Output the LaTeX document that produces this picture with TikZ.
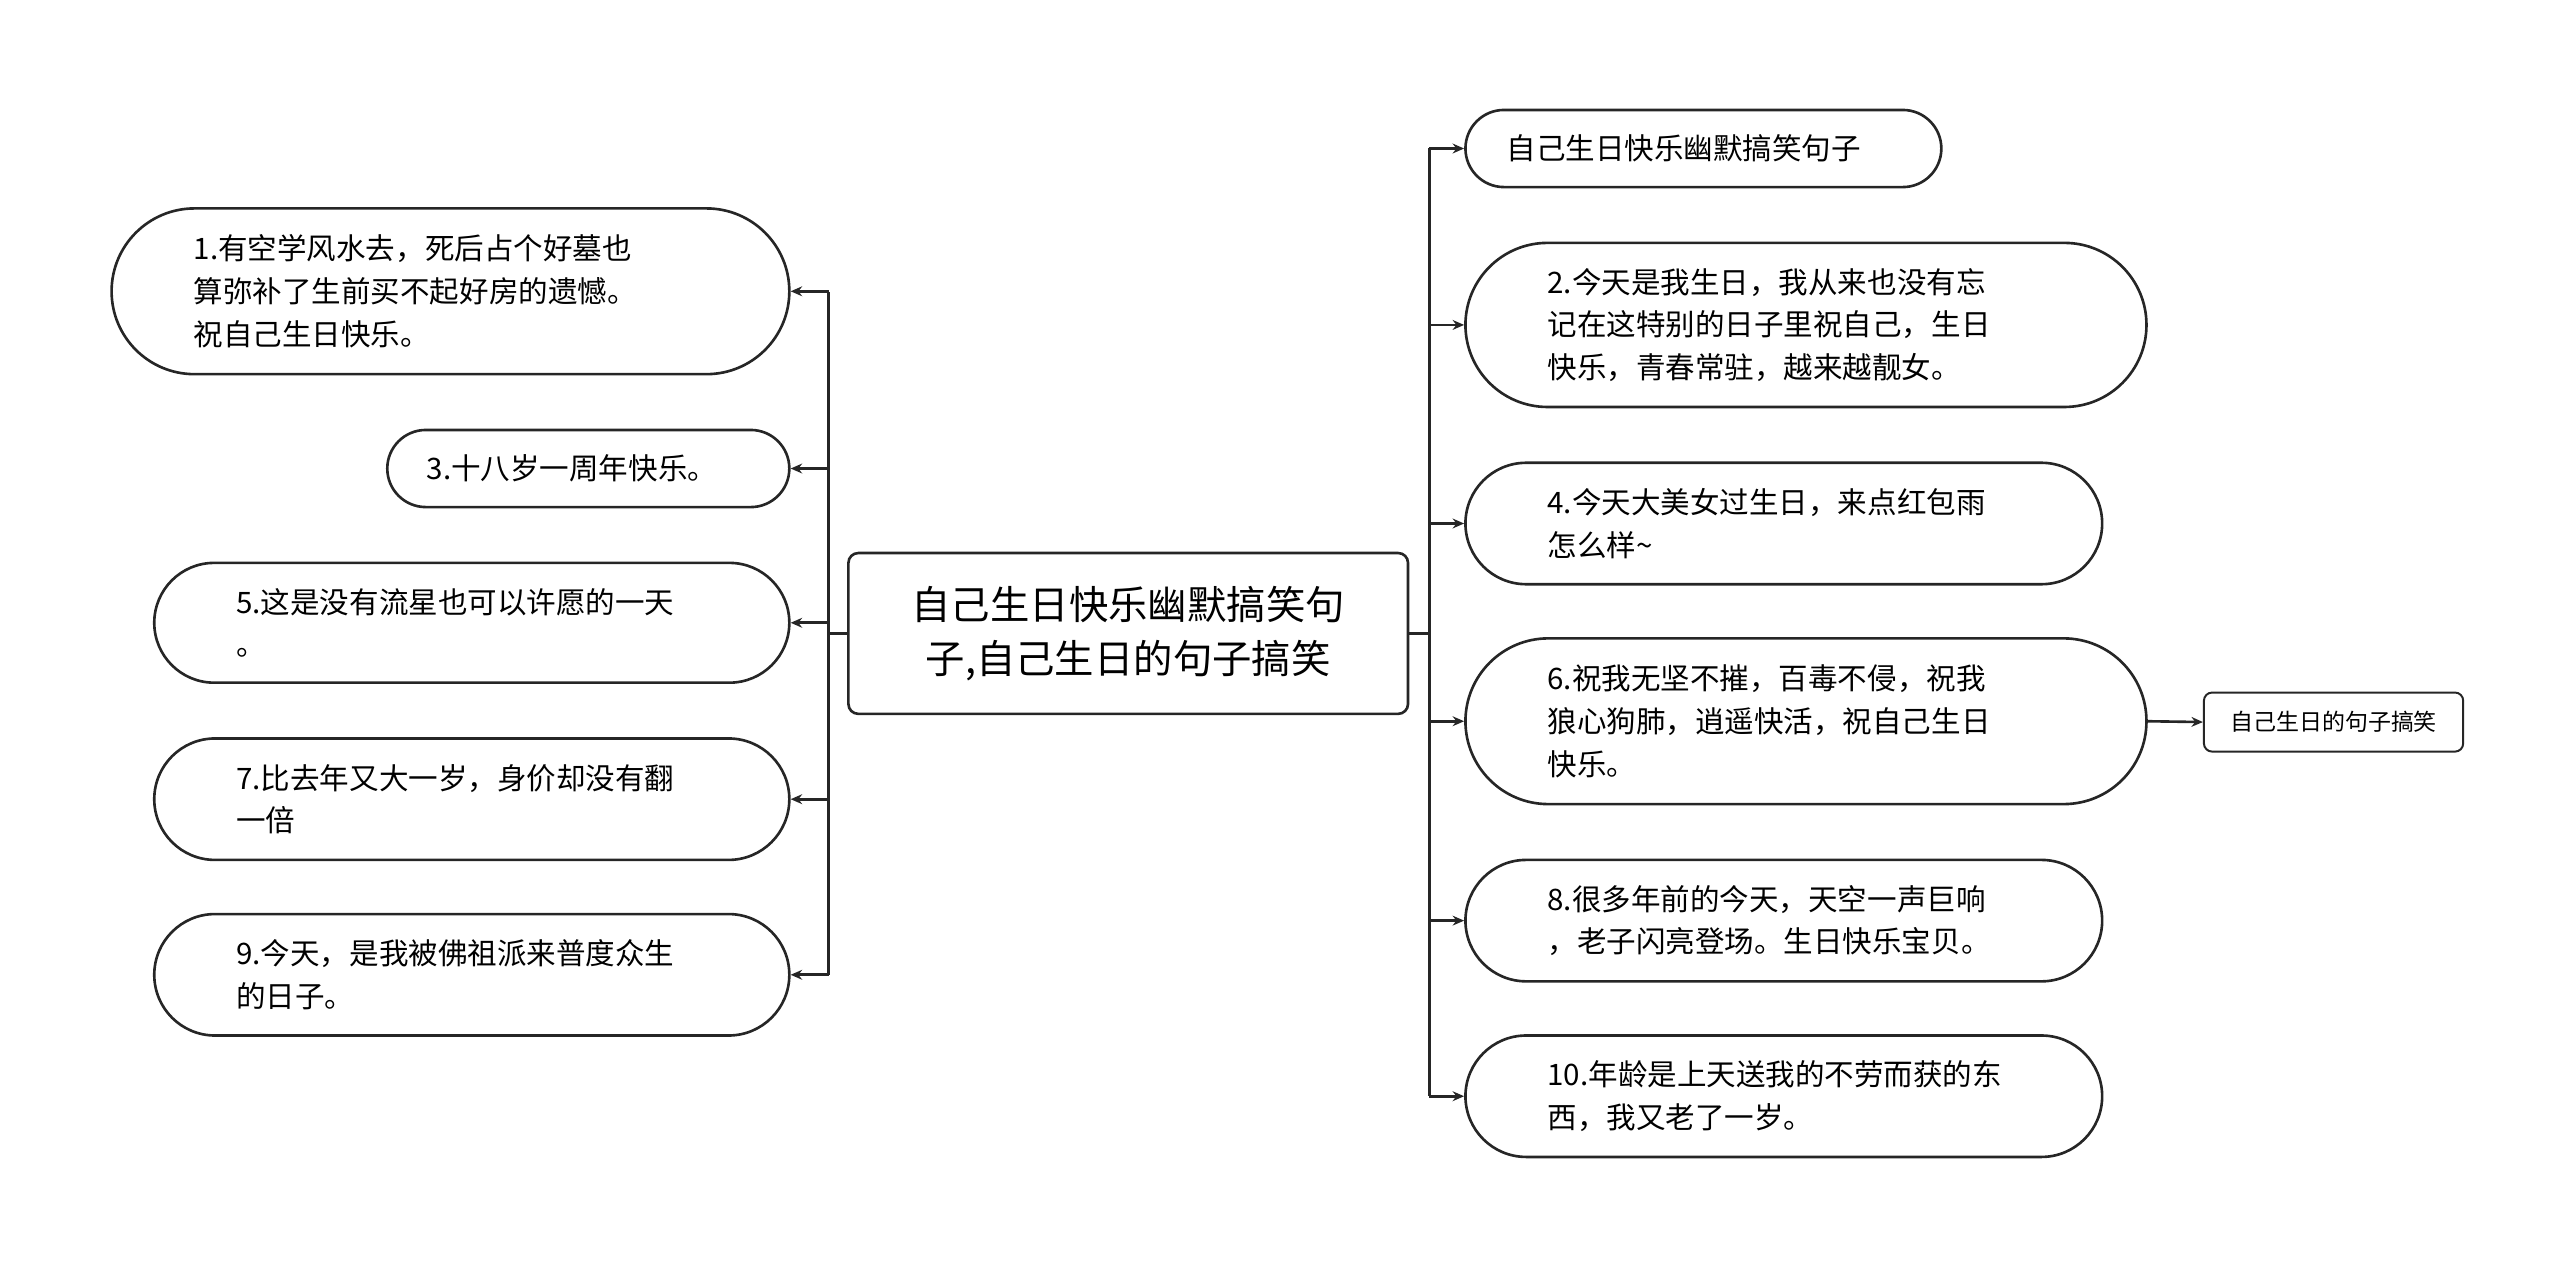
\documentclass[tikz,border=0pt]{standalone}
\usepackage{fontspec}
\setmainfont{Noto Sans CJK SC}
\usetikzlibrary{arrows.meta}
\tikzset{
  topic/.style={draw=black!85, line width=1.6pt, rounded corners=6pt, align=center,
    minimum width=341pt, minimum height=98pt, font=\fontsize{24}{33}\selectfont},
  item/.style={draw=black!85, line width=1.6pt, align=left, inner xsep=0pt,
    font=\fontsize{18}{26}\selectfont},
  tag/.style={draw=black!85, line width=1.2pt, rounded corners=5pt,
    minimum width=158pt, minimum height=36pt, font=\fontsize{14}{18}\selectfont},
  link/.style={line width=1.6pt, draw=black!85, -{Stealth[length=7pt,width=6pt]}},
  trunk/.style={line width=1.6pt, draw=black!85}
}
% \itembox{name}{left}{top}{width}{height}{pad}{text}
\newcommand{\itembox}[7]{%
  \node[item, rounded corners=#5*0.5pt, minimum width=#4pt, minimum height=#5pt,
    text width=#4pt-2*#6pt] (#1) at (#2+#4*0.5, #3+#5*0.5) {#7};}
\begin{document}
\begin{tikzpicture}[x=1pt,y=-1pt]
\useasboundingbox (0,0) rectangle (1560,769);
\node[topic] (root) at (687.5,386) {自己生日快乐幽默搞笑句\\子,自己生日的句子搞笑};
% left side
\itembox{l1}{68}{127}{413}{101}{50}{1.有空学风水去，死后占个好墓也\\算弥补了生前买不起好房的遗憾。\\祝自己生日快乐。}
\itembox{l3}{236}{262}{245}{47}{24}{3.十八岁一周年快乐。}
\itembox{l5}{94}{343}{387}{73}{50}{5.这是没有流星也可以许愿的一天\\。}
\itembox{l7}{94}{450}{387}{74}{50}{7.比去年又大一岁，身价却没有翻\\一倍}
\itembox{l9}{94}{557}{387}{74}{50}{9.今天，是我被佛祖派来普度众生\\的日子。}
% right side
\itembox{r0}{893}{67}{290}{47}{25}{自己生日快乐幽默搞笑句子}
\itembox{r2}{893}{148}{415}{100}{50}{2.今天是我生日，我从来也没有忘\\记在这特别的日子里祝自己，生日\\快乐，青春常驻，越来越靓女。}
\itembox{r4}{893}{282}{388}{74}{50}{4.今天大美女过生日，来点红包雨\\怎么样\textasciitilde}
\itembox{r6}{893}{389}{415}{101}{50}{6.祝我无坚不摧，百毒不侵，祝我\\狼心狗肺，逍遥快活，祝自己生日\\快乐。}
\itembox{r8}{893}{524}{388}{74}{50}{8.很多年前的今天，天空一声巨响\\，老子闪亮登场。生日快乐宝贝。}
\itembox{r10}{893}{631}{388}{74}{50}{10.年龄是上天送我的不劳而获的东\\西，我又老了一岁。}
\node[tag] (leaf) at (1422,440) {自己生日的句子搞笑};
% connectors
\coordinate (lj) at (505,386);
\coordinate (rj) at (871,386);
\draw[trunk] (root.west) -- (lj);
\draw[trunk] (root.east) -- (rj);
\draw[trunk] (505,178) -- (505,594);
\draw[trunk] (871,90) -- (871,668);
\foreach \n in {l1,l3,l5,l7,l9}
  \draw[link] (lj |- \n.east) -- (\n.east);
\foreach \n in {r0,r2,r4,r6,r8,r10}
  \draw[link] (rj |- \n.west) -- (\n.west);
\draw[link] (r6.east) -- (leaf.west);
\end{tikzpicture}
\end{document}
